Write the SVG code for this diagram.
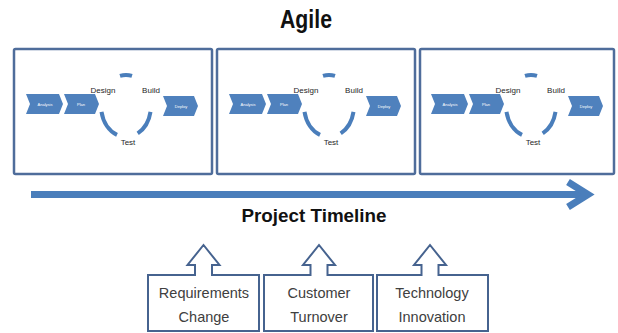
<svg xmlns="http://www.w3.org/2000/svg" width="618" height="333" viewBox="0 0 618 333">
  <style>
    .frame { fill: #ffffff; stroke: #4f6d9b; stroke-width: 2.5; }
    .chev { fill: #4f81bd; }
    .ring { fill: none; stroke: #4a7ebb; stroke-width: 4; stroke-linecap: butt; }
    .step { font-family: "Liberation Sans", Arial, sans-serif; font-size: 8px; fill: #262626; text-anchor: middle; }
    .tag { font-family: "Liberation Sans", Arial, sans-serif; font-size: 4px; fill: #ffffff; text-anchor: middle; }
    .title { font-family: "Liberation Sans", Arial, sans-serif; font-weight: bold; fill: #111111; text-anchor: middle; }
    .callout { fill: #ffffff; stroke: #46638f; stroke-width: 2; stroke-linejoin: miter; }
    .ctext { font-family: "Liberation Sans", Arial, sans-serif; font-size: 14.5px; fill: #404040; text-anchor: middle; }
    .timeline { fill: none; stroke: #4a7ebb; stroke-width: 7; }
  </style>
  <defs>
    <!-- one iteration: Analysis > Plan > (Design/Build/Test cycle) > Deploy -->
    <g id="iteration">
      <polygon class="chev" points="26,94 59,94 63,104 59,114 26,114 30,104"/>
      <polygon class="chev" points="64,94 95,94 99,104 95,114 64,114 68,104"/>
      <polygon class="chev" points="163,96 194,96 198,106 194,116 163,116 167,106"/>
      <text class="tag" x="45" y="105.5">Analysis</text>
      <text class="tag" x="81" y="105.5">Plan</text>
      <text class="tag" x="181" y="107.5">Deploy</text>
      <path class="ring" d="M 120 75.9 A 25 31 0 0 1 132 75.9"/>
      <path class="ring" d="M 150.5 111.9 A 25 31 0 0 1 137.7 133.4"/>
      <path class="ring" d="M 101.5 111.9 A 25 31 0 0 0 117 134.9"/>
      <text class="step" x="103" y="93">Design</text>
      <text class="step" x="151" y="93">Build</text>
      <text class="step" x="128" y="145">Test</text>
    </g>
  </defs>

  <text class="title" x="306" y="28" font-size="25" textLength="52" lengthAdjust="spacingAndGlyphs">Agile</text>

  <g id="iteration-1">
    <rect class="frame" x="14" y="49" width="198" height="125" rx="1.5"/>
    <use href="#iteration"/>
  </g>
  <g id="iteration-2">
    <rect class="frame" x="217" y="49" width="198" height="125" rx="1.5"/>
    <use href="#iteration" transform="translate(203,0)"/>
  </g>
  <g id="iteration-3">
    <rect class="frame" x="420" y="49" width="194" height="125" rx="1.5"/>
    <use href="#iteration" transform="translate(405,0)"/>
  </g>

  <g id="connectors">
    <line class="timeline" x1="31" y1="194.5" x2="586" y2="194.5"/>
    <polyline class="timeline" points="568,182 588,194.5 568,207" stroke-linejoin="miter"/>
  </g>

  <text class="title" x="314" y="222" font-size="19" textLength="145" lengthAdjust="spacingAndGlyphs">Project Timeline</text>

  <g id="requirements-change">
    <path class="callout" d="M 148 275 H 195 V 265 H 187.5 L 203.5 245 L 219.5 265 H 212 V 275 H 259 V 331 H 148 Z"/>
    <text class="ctext" x="204" y="298">Requirements</text>
    <text class="ctext" x="204" y="322">Change</text>
  </g>
  <g id="customer-turnover">
    <path class="callout" d="M 264 275 H 310.5 V 265 H 303 L 319 245 L 335 265 H 327.5 V 275 H 373 V 331 H 264 Z"/>
    <text class="ctext" x="319" y="298">Customer</text>
    <text class="ctext" x="319" y="322">Turnover</text>
  </g>
  <g id="technology-innovation">
    <path class="callout" d="M 377 275 H 421.5 V 265 H 414 L 430 245 L 446 265 H 438.5 V 275 H 488 V 331 H 377 Z"/>
    <text class="ctext" x="432" y="298">Technology</text>
    <text class="ctext" x="432" y="322">Innovation</text>
  </g>
</svg>
